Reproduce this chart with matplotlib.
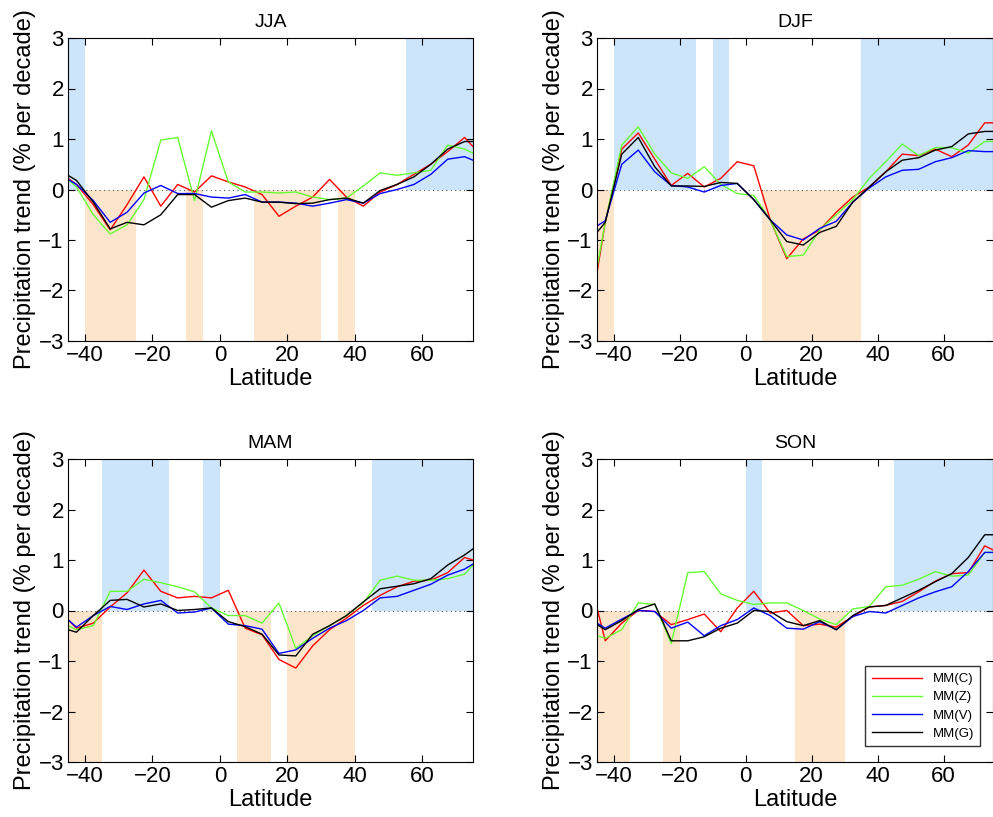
import matplotlib
matplotlib.use("Agg")
import matplotlib.pyplot as plt
import numpy as np

plt.rcParams['font.family'] = ['Liberation Sans', 'DejaVu Sans']

lat = [-45, -42.5, -37.5, -32.5, -27.5, -22.5, -17.5, -12.5, -7.5, -2.5, 2.5, 7.5, 12.5,
       17.5, 22.5, 27.5, 32.5, 37.5, 42.5, 47.5, 52.5, 57.5, 62.5, 67.5, 72.5, 75]

jja_c = [0.22, 0.1, -0.3, -0.8, -0.3, 0.25, -0.33, 0.1, -0.05, 0.27, 0.15, 0.05, -0.1, -0.53, -0.33, -0.15, 0.2, -0.15, -0.33, -0.05, 0.1, 0.3, 0.5, 0.75, 1.03, 0.85]
jja_z = [0.2, 0.05, -0.5, -0.88, -0.7, -0.2, 0.98, 1.03, -0.22, 1.16, 0.15, -0.05, -0.05, -0.07, -0.05, -0.15, -0.2, -0.17, 0.07, 0.33, 0.28, 0.33, 0.38, 0.88, 0.8, 0.72]
jja_v = [0.2, 0.1, -0.22, -0.65, -0.45, -0.07, 0.08, -0.08, -0.08, -0.15, -0.17, -0.1, -0.25, -0.25, -0.27, -0.33, -0.27, -0.2, -0.27, -0.08, 0.0, 0.1, 0.3, 0.6, 0.65, 0.58]
jja_g = [0.28, 0.18, -0.25, -0.78, -0.65, -0.7, -0.5, -0.1, -0.1, -0.35, -0.22, -0.17, -0.25, -0.25, -0.28, -0.27, -0.2, -0.17, -0.27, -0.02, 0.1, 0.25, 0.5, 0.8, 0.95, 0.95]

djf_c = [-1.65, -0.65, 0.8, 1.12, 0.6, 0.08, 0.32, 0.05, 0.22, 0.55, 0.47, -0.6, -1.37, -0.98, -0.8, -0.45, -0.15, 0.05, 0.35, 0.7, 0.67, 0.8, 0.65, 0.88, 1.32, 1.32]
djf_z = [-1.55, -0.65, 0.88, 1.24, 0.7, 0.33, 0.22, 0.45, 0.1, -0.08, -0.12, -0.6, -1.33, -1.3, -0.8, -0.5, -0.2, 0.22, 0.55, 0.9, 0.67, 0.83, 0.83, 0.72, 0.95, 0.95]
djf_v = [-0.72, -0.62, 0.5, 0.78, 0.35, 0.08, 0.05, -0.05, 0.08, 0.12, -0.2, -0.6, -0.9, -1.0, -0.77, -0.63, -0.25, 0.03, 0.25, 0.38, 0.4, 0.55, 0.63, 0.77, 0.75, 0.75]
djf_g = [-0.85, -0.65, 0.7, 1.03, 0.45, 0.07, 0.07, 0.06, 0.14, 0.12, -0.2, -0.6, -1.03, -1.1, -0.85, -0.73, -0.25, 0.05, 0.35, 0.58, 0.63, 0.78, 0.85, 1.1, 1.15, 1.15]

mam_c = [-0.18, -0.35, -0.25, 0.07, 0.35, 0.8, 0.38, 0.25, 0.28, 0.25, 0.4, -0.35, -0.48, -0.97, -1.14, -0.7, -0.38, -0.15, 0.1, 0.3, 0.47, 0.58, 0.6, 0.75, 1.05, 1.0]
mam_z = [-0.3, -0.38, -0.3, 0.38, 0.38, 0.62, 0.55, 0.47, 0.37, 0.05, -0.1, -0.1, -0.25, 0.15, -0.75, -0.5, -0.3, -0.1, 0.15, 0.6, 0.68, 0.6, 0.6, 0.63, 0.72, 0.9]
mam_v = [-0.18, -0.33, -0.1, 0.08, 0.02, 0.13, 0.2, -0.05, -0.03, 0.05, -0.27, -0.3, -0.37, -0.85, -0.78, -0.55, -0.35, -0.2, 0.0, 0.25, 0.28, 0.4, 0.52, 0.7, 0.82, 0.92]
mam_g = [-0.38, -0.43, -0.1, 0.2, 0.22, 0.07, 0.13, 0.0, 0.02, 0.05, -0.22, -0.32, -0.47, -0.88, -0.9, -0.47, -0.3, -0.1, 0.17, 0.43, 0.48, 0.53, 0.63, 0.9, 1.1, 1.22]

son_c = [0.05, -0.6, -0.25, 0.0, -0.02, -0.28, -0.18, -0.07, -0.42, 0.05, 0.38, -0.05, 0.0, -0.3, -0.27, -0.33, -0.12, 0.07, 0.1, 0.18, 0.37, 0.58, 0.73, 0.75, 1.28, 1.2]
son_z = [-0.5, -0.55, -0.38, 0.15, 0.12, -0.65, 0.75, 0.77, 0.33, 0.2, 0.12, 0.15, 0.15, 0.0, -0.17, -0.28, 0.03, 0.08, 0.47, 0.5, 0.62, 0.77, 0.68, 0.7, 1.15, 1.15]
son_v = [-0.25, -0.35, -0.17, 0.0, -0.02, -0.35, -0.23, -0.5, -0.3, -0.18, 0.05, -0.1, -0.35, -0.37, -0.22, -0.38, -0.12, -0.02, -0.05, 0.1, 0.25, 0.37, 0.47, 0.77, 1.15, 1.15]
son_g = [-0.28, -0.38, -0.2, 0.02, 0.13, -0.6, -0.6, -0.52, -0.35, -0.25, 0.0, -0.02, -0.22, -0.3, -0.2, -0.38, -0.1, 0.07, 0.1, 0.25, 0.4, 0.57, 0.73, 1.05, 1.5, 1.5]

# shaded latitude bands: positive (blue, above 0) and negative (orange, below 0)
jja_pos = [(-45, -40), (55, 75)]
jja_neg = [(-40, -25), (-10, -5), (10, 30), (35, 40)]
djf_pos = [(-40, -15), (-10, -5), (35, 75)]
djf_neg = [(-45, -40), (5, 35)]
mam_pos = [(-35, -15), (-5, 0), (45, 75)]
mam_neg = [(-45, -35), (5, 15), (20, 40)]
son_pos = [(0, 5), (45, 75)]
son_neg = [(-45, -35), (-25, -20), (15, 30)]

names = ['MM(C)', 'MM(Z)', 'MM(V)', 'MM(G)']
colors = ['#ff0000', '#66ff33', '#0000ff', '#000000']

panels = [
    ('JJA', [jja_c, jja_z, jja_v, jja_g], jja_pos, jja_neg),
    ('DJF', [djf_c, djf_z, djf_v, djf_g], djf_pos, djf_neg),
    ('MAM', [mam_c, mam_z, mam_v, mam_g], mam_pos, mam_neg),
    ('SON', [son_c, son_z, son_v, son_g], son_pos, son_neg),
]

W, H = 993, 817
fig = plt.figure(figsize=(W / 100, H / 100), dpi=100)
boxes = [(68, 38, 473, 341), (597, 38, 993, 341), (68, 459, 473, 762), (597, 459, 993, 762)]

for (title, series, pos, neg), (l, t, r, b) in zip(panels, boxes):
    ax = fig.add_axes([l / W, 1 - b / H, (r - l) / W, (b - t) / H])
    for a, c in pos:
        ax.fill_between([a, c], 0, 3, color='#cce5fb', lw=0, zorder=0)
    for a, c in neg:
        ax.fill_between([a, c], -3, 0, color='#fde5cc', lw=0, zorder=0)
    ax.axhline(0, color='#555555', lw=0.8, ls=(0, (1, 3)), zorder=1)
    for s, col, nm in zip(series, colors, names):
        ax.plot(lat, s, color=col, lw=1.0, label=nm, zorder=2)
    ax.set_xlim(-45, 75)
    ax.set_ylim(-3, 3)
    ax.set_xticks([-40, -20, 0, 20, 40, 60])
    ax.set_xticklabels(['\u221240', '\u221220', '0', '20', '40', '60'])
    ax.set_yticks([-3, -2, -1, 0, 1, 2, 3])
    ax.set_yticklabels(['\u22123', '\u22122', '\u22121', '0', '1', '2', '3'])
    ax.tick_params(direction='in', top=True, right=True, labelsize=16, length=5, pad=3)
    ax.set_title(title, fontsize=14, pad=8)
    ax.set_xlabel('Latitude', fontsize=17, labelpad=1)
    ax.set_ylabel('Precipitation trend (% per decade)', fontsize=17, labelpad=2)
    for sp in ax.spines.values():
        sp.set_linewidth(0.8)
    if title == 'SON':
        leg = ax.legend(loc='lower right', fontsize=9.5, frameon=True, fancybox=False,
                        edgecolor='black', borderpad=0.5, labelspacing=0.45,
                        handlelength=3.8, bbox_to_anchor=(0.985, 0.03))
        leg.get_frame().set_linewidth(1.0)

fig.savefig('out.png', dpi=100)
